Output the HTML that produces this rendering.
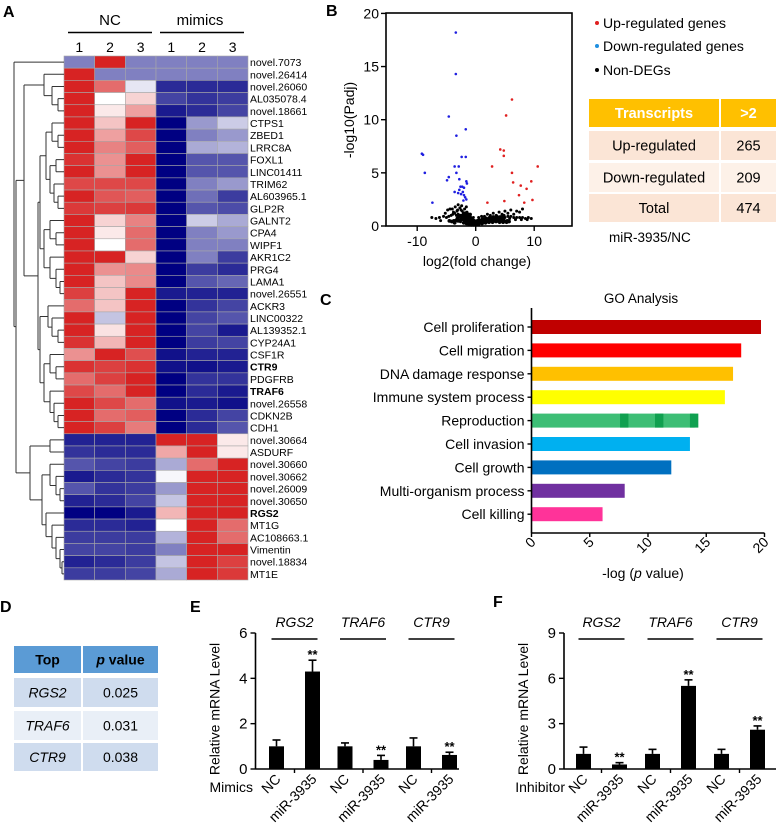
<!DOCTYPE html>
<html><head><meta charset="utf-8">
<style>
html,body{margin:0;padding:0;background:#fff;}
svg{display:block;font-family:"Liberation Sans",sans-serif;}
</style></head>
<body>
<svg id="fig" width="781" height="830" viewBox="0 0 781 830" xmlns="http://www.w3.org/2000/svg">
<g font-weight="bold" font-size="16">
<text x="3" y="17">A</text>
<text x="326" y="16">B</text>
<text x="320" y="305">C</text>
<text x="0" y="612">D</text>
<text x="190" y="612">E</text>
<text x="493" y="607">F</text>
</g>
<g id="heat"></g>
<g id="volc"></g>
<g id="tableB"></g>
<g id="go"></g>
<g id="tableD"></g>
<g id="barE"></g>
<g id="barF"></g>
</svg>
<script>
const NS='http://www.w3.org/2000/svg';
// ---------- Heatmap data ----------
const heatGenes=['novel.7073','novel.26414','novel.26060','AL035078.4','novel.18661','CTPS1','ZBED1','LRRC8A','FOXL1','LINC01411','TRIM62','AL603965.1','GLP2R','GALNT2','CPA4','WIPF1','AKR1C2','PRG4','LAMA1','novel.26551','ACKR3','LINC00322','AL139352.1','CYP24A1','CSF1R','CTR9','PDGFRB','TRAF6','novel.26558','CDKN2B','CDH1','novel.30664','ASDURF','novel.30660','novel.30662','novel.26009','novel.30650','RGS2','MT1G','AC108663.1','Vimentin','novel.18834','MT1E'];
const boldGenes=['CTR9','TRAF6','RGS2'];
const heatCols=['1','2','3','1','2','3'];
const heatVals=[
[-1.5,3,-1.5,-1.5,-1.5,-1.5],[3,-1.5,-1.5,-1.5,-1.5,-1.5],[3,2,-0.3,-2.5,-2.5,-2.5],[3,0,0.6,-2.2,-2.4,-2.3],[3,0.3,1.3,-2.7,-2.5,-2.2],
[3,0.8,3,-3,-1.2,-0.6],[3,1.3,2.5,-3,-1.5,-1.2],[3,1.7,2.2,-3,-1,-0.9],[2.8,1.5,3,-3,-2,-2],[3,1.5,3,-3,-2,-2],
[2.5,2.5,2.5,-3,-1.5,-1.2],[3,2.3,2.2,-3,-1.7,-2.3],[2.7,2.6,2.7,-3,-2,-2.1],[3,0.6,1.7,-3,-0.6,-1],[3,0.3,2,-3,-1.5,-1.2],
[3,0,2,-3,-1.5,-1.5],[3,3,0.6,-3,-1.5,-2.3],[3,1.5,1.6,-3,-2.3,-2.5],[3,0.8,1.6,-3,-2,-1.8],[2.6,0.8,3,-2.7,-2.6,-2.6],
[2,0.8,3,-3,-2.4,-2.2],[3,-0.7,3,-3,-2.2,-2],[3,0.4,3,-3,-2.2,-2.7],[2.8,1,3,-3,-2.3,-2.2],[1.5,3,2.4,-2.8,-2.6,-2.6],
[2.8,2.6,2.8,-2.8,-2.8,-2.7],[2,2.6,3,-3,-2.4,-2.4],[2.5,2,3,-3,-2.5,-2.7],[3,2.5,2,-2.8,-2.7,-2.8],[3,2,2.2,-3,-2.5,-2.2],
[3,2.6,1.8,-3,-2.5,-2],[-2.6,-2.6,-2.6,3,3,0.3],[-2.4,-2.5,-2.5,1.2,3,0.3],[-2,-2.2,-2.3,-1,2,3],[-2.7,-2.5,-2.4,-0.1,3,3],
[-2,-2.4,-2.3,-1.2,3,3],[-2.6,-2.5,-2.2,-0.7,3,3],[-3,-3,-2.7,1,3,3],[-2.5,-2.5,-2.6,0,3,2],[-2.3,-2.3,-2.3,-0.9,3,2],
[-2.2,-2.2,-2.3,-1.5,3,3],[-2.6,-2.5,-2.3,-0.7,3,2.6],[-2.3,-2.3,-2.2,-1,3,2.7]];
// ---------- Volcano data ----------
const downX=[-3.4,-3.4,-4.6,-1.7,-3.3,-9.0,-9.2,-8.7,-2.4,-1.7,-3.6,-2.9,-3.3,-4.6,-4.9,-2.8,-1.6,-1.5,-2.6,-2.3,-2.0,-2.8,-3.6,-3.0,-2.2,-2.5,-2.0,-1.8,-1.6,-7.4,-2.1];
const downY=[18.2,14.3,10.3,9.1,8.5,6.7,6.8,5.0,6.5,6.5,5.6,5.6,5.0,4.6,4.3,4.4,4.2,4.0,3.7,3.7,3.6,3.4,3.2,3.1,3.2,3.0,2.9,2.7,2.5,2.2,2.4];
const upX=[6.2,5.2,4.2,4.8,4.8,2.8,10.6,6.2,6.4,9.5,7.7,8.7,7.4,9.7,4.9,8.3,2.0];
const upY=[11.9,10.4,7.2,7.1,6.6,5.6,5.6,5.0,4.1,4.2,3.8,3.5,2.9,2.45,2.35,2.2,2.2];
const nonX=[-7.5,-6.8,-6.2,-5.5,-5.0,-4.6,-4.2,-3.9,-3.6,-3.3,-3.0,-2.8,-2.6,-2.4,-2.2,-2.0,-1.8,-1.6,-1.4,-1.2,-1.0,-0.8,-0.5,-0.2,0.2,0.6,1.0,1.5,2.0,2.5,3.0,3.5,4.0,4.5,5.0,5.5,6.0,6.5,7.0,7.5,8.0,8.5,9.0,9.5,
-4.8,-4.0,-3.5,-3.1,-2.7,-2.3,-1.9,-1.5,-1.1,-0.7,-3.8,-3.2,-2.5,-2.1,-1.7,-1.3,-2.9,-2.2,-1.8,-1.5,1.0,2.0,3.0,4.0,5.0,6.0,7.0,8.0,3.5,4.5,5.5,6.5,7.5,-6.0,-5.2,-4.4,-0.4,0.5,1.5,2.5,
-3.4,-2.6,-1.9,-1.2,-0.6,0.0,0.8,1.8,2.8,3.8,4.8,5.8,6.8,7.8,8.8,-2.4,-1.6,-3.0,-2.0,-1.0];
const nonY=[0.8,0.7,0.8,0.9,0.8,0.9,1.0,1.1,1.2,1.0,1.1,0.9,1.0,0.8,0.9,0.7,0.6,0.5,0.5,0.4,0.4,0.3,0.3,0.3,0.3,0.4,0.5,0.5,0.6,0.6,0.7,0.7,0.8,0.8,0.8,0.9,0.9,0.8,0.8,0.8,0.8,0.7,0.8,0.7,
1.5,1.6,1.8,1.5,1.7,1.4,1.6,1.3,1.0,0.7,1.3,1.4,1.5,1.2,1.0,0.9,0.6,0.6,0.4,0.3,0.9,1.1,1.2,1.3,1.4,1.5,1.4,1.6,1.0,1.1,1.2,1.1,1.3,0.5,1.2,1.6,0.8,0.8,0.9,1.0,
0.5,0.4,0.3,0.2,0.2,0.2,0.3,0.4,0.5,0.6,0.6,0.7,0.6,0.6,0.6,1.9,1.8,2.0,1.2,1.0];
const volcXTicks=[-10,0,10];
const volcYTicks=[0,5,10,15,20];
// ---------- Table B ----------
const tbHeader=['Transcripts','>2'];
const tbRows=[['Up-regulated','265'],['Down-regulated','209'],['Total','474']];
// ---------- GO data ----------
const goTerms=['Cell proliferation','Cell migration','DNA damage response','Immune system process','Reproduction','Cell invasion','Cell growth','Multi-organism process','Cell killing'];
const goValues=[19.7,18.0,17.3,16.6,14.0,13.6,12.0,8.0,6.1];
const goColors=['#C00000','#FF0000','#FFC000','#FFFF00','#3DBE75','#00B0F0','#0070C0','#7030A0','#FF3399'];
const goTicks=[0,5,10,15,20];
// ---------- Table D ----------
const tdHeader=['Top','p value'];
const tdRows=[['RGS2','0.025'],['TRAF6','0.031'],['CTR9','0.038']];
// ---------- Bar data ----------
const barGenes=['RGS2','TRAF6','CTR9'];
const barConds=['NC','miR-3935'];
const mimicsVals=[1.0,4.3,1.0,0.4,1.0,0.62];
const mimicsErr=[0.28,0.5,0.15,0.2,0.37,0.12];
const mimicsSig=['','**','','**','','**'];
const mimicsTicks=[0,2,4,6];
const inhibVals=[1.0,0.3,1.0,5.5,1.0,2.6];
const inhibErr=[0.45,0.12,0.3,0.4,0.3,0.25];
const inhibSig=['','**','','**','','**'];
const inhibTicks=[0,3,6,9];

function mk(parent,tag,attrs,txt){const e=document.createElementNS(NS,tag);for(const k in attrs)e.setAttribute(k,attrs[k]);if(txt!==undefined)e.textContent=txt;parent.appendChild(e);return e;}

// ===== Heatmap =====
(function(){
const g=document.getElementById('heat');
const x0=64,x1=248,y0=56,y1=580;
const cw=(x1-x0)/6,rh=(y1-y0)/heatGenes.length;
function col(v){const t=Math.min(1,Math.abs(v)/3);
 if(v>=0){return `rgb(${Math.round(255-t*40)},${Math.round(255-t*220)},${Math.round(255-t*220)})`;}
 return `rgb(${Math.round(255-t*255)},${Math.round(255-t*255)},${Math.round(255-t*125)})`;}
heatVals.forEach((row,i)=>{row.forEach((v,j)=>{
 const r=mk(g,'rect',{x:x0+j*cw,y:y0+i*rh,width:cw,height:rh,fill:col(v),stroke:'#a8a8a8','stroke-width':0.6});
 
 
});
 const t=mk(g,'text',{x:x1+2,y:y0+i*rh+rh/2+4,'font-size':10.5,'font-weight':boldGenes.includes(heatGenes[i])?'bold':'normal'},heatGenes[i]);
 
 
});
heatCols.forEach((c,j)=>{const t=mk(g,'text',{x:x0+j*cw+cw/2,y:52,'font-size':14,'text-anchor':'middle'},c);
 
 });
const h1=mk(g,'text',{x:110,y:25,'font-size':15,'text-anchor':'middle'},'NC');


const h2=mk(g,'text',{x:200,y:25,'font-size':15,'text-anchor':'middle'},'mimics');


mk(g,'line',{x1:68,x2:152,y1:32.5,y2:32.5,stroke:'#000','stroke-width':1.6});
mk(g,'line',{x1:160,x2:244,y1:32.5,y2:32.5,stroke:'#000','stroke-width':1.6});
const tree=[14,0,[16,[24,[44,1,[52,2,[58,3,4]]],[38,[40,[46,[52,5,[58,6,7]],[50,[56,8,9],[54,10,[58,11,12]]]],[44,[50,13,[56,14,15]],[50,16,[56,17,[60,18,19]]]]],[40,[48,20,[52,21,[58,22,23]]],[44,[50,24,[56,25,26]],[50,27,[54,28,[58,29,30]]]]]]],[30,[50,31,32],[42,[50,33,[56,34,[60,35,36]]],[46,37,[52,38,[56,39,[60,40,[62,41,42]]]]]]]]];
let d='';
function walk(n){if(typeof n==='number')return {y:y0+n*rh+rh/2,x:x0};
 const a=walk(n[1]),b=walk(n[2]);const h=n[0];
 d+=`M${h},${a.y}H${a.x}M${h},${b.y}H${b.x}M${h},${a.y}V${b.y}`;
 return {y:(a.y+b.y)/2,x:h};}
walk(tree);
const p=mk(g,'path',{d:d,stroke:'#333',fill:'none','stroke-width':1});


})();

// ===== Volcano =====
(function(){
const g=document.getElementById('volc');
const L=386,R=572,T=13,B=226;
const xs=v=>475.7+v*5.85, ys=v=>226-v*10.63;
nonX.forEach((v,i)=>{const c=mk(g,'circle',{cx:xs(v),cy:ys(nonY[i]),r:1.5,fill:'#000'});});
nonX.forEach((v,i)=>{const c=mk(g,'circle',{cx:xs(v*0.6),cy:ys(nonY[i]*0.6),r:1.9,fill:'#000'});});
downX.forEach((v,i)=>{const c=mk(g,'circle',{cx:xs(v),cy:ys(downY[i]),r:1.3,fill:'#1F1FE0'});});
upX.forEach((v,i)=>{const c=mk(g,'circle',{cx:xs(v),cy:ys(upY[i]),r:1.3,fill:'#E02020'});});
mk(g,'rect',{x:L,y:T,width:R-L,height:B-T,fill:'none',stroke:'#000','stroke-width':1.6});
volcYTicks.forEach(v=>{mk(g,'line',{x1:L-5,x2:L,y1:ys(v),y2:ys(v),stroke:'#000','stroke-width':1.4});
 const t=mk(g,'text',{x:L-7,y:ys(v)+5,'font-size':14,'text-anchor':'end'},v);});
volcXTicks.forEach(v=>{mk(g,'line',{x1:xs(v),x2:xs(v),y1:B,y2:B+5,stroke:'#000','stroke-width':1.4});
 const t=mk(g,'text',{x:xs(v),y:246,'font-size':14,'text-anchor':'middle'},v);});
const xl=mk(g,'text',{x:477,y:266,'font-size':14,'text-anchor':'middle'},'log2(fold change)');
const yl=mk(g,'text',{x:0,y:0,'font-size':14,'text-anchor':'middle',transform:'translate(354,120) rotate(-90)'},'-log10(Padj)');
const leg=[['#E02020','Up-regulated genes',24],['#1F8FE0','Down-regulated genes',47],['#000','Non-DEGs',71]];
leg.forEach(l=>{const c=mk(g,'circle',{cx:597,cy:l[2]-1,r:2,fill:l[0]});
 const t=mk(g,'text',{x:603,y:l[2]+4,'font-size':14},l[1]);});
})();

// ===== Table B =====
(function(){
const g=document.getElementById('tableB');
const cx=[589,721],cw=[130,55];
const rowsY=[[99,28],[131,29],[163,29],[194,28]];
const fills=['#FFC000','#FBE5D6','#FDF1E8','#FBE5D6'];
const all=[tbHeader].concat(tbRows);
all.forEach((r,i)=>{r.forEach((c,j)=>{
 mk(g,'rect',{x:cx[j],y:rowsY[i][0],width:cw[j],height:rowsY[i][1],fill:fills[i]});
 const t=mk(g,'text',{x:cx[j]+cw[j]/2,y:rowsY[i][0]+rowsY[i][1]/2+5,'font-size':14.5,'text-anchor':'middle','font-weight':i==0?'bold':'normal',fill:i==0?'#fff':'#000'},c);
 
 
});});
const t=mk(g,'text',{x:609,y:242,'font-size':13.5},'miR-3935/NC');
})();

// ===== GO =====
(function(){
const g=document.getElementById('go');
const x0=531.5,sc=11.65,yB=533;
const yc=i=>327+i*23.4;
const tt=mk(g,'text',{x:641,y:303,'font-size':13.5,'text-anchor':'middle'},'GO Analysis');
goValues.forEach((v,i)=>{
 const r=mk(g,'rect',{x:x0,y:yc(i)-7,width:v*sc,height:14,fill:goColors[i]});
 
 
 mk(g,'line',{x1:x0-4,x2:x0,y1:yc(i),y2:yc(i),stroke:'#000','stroke-width':1.4});
 const t=mk(g,'text',{x:x0-7,y:yc(i)+5,'font-size':14,'text-anchor':'end'},goTerms[i]);
 
 
});
[[8,1.2],[11,1.2],[14,1.2]].forEach(p=>mk(g,'rect',{x:x0+(p[0]-0.4)*sc,y:yc(4)-7,width:p[1]*sc*0.6,height:14,fill:'#10A050'}));
mk(g,'line',{x1:x0,x2:x0,y1:308,y2:yB,stroke:'#000','stroke-width':1.6});
mk(g,'line',{x1:x0,x2:x0+20*sc,y1:yB,y2:yB,stroke:'#000','stroke-width':1.6});
goTicks.forEach(v=>{const x=x0+v*sc;mk(g,'line',{x1:x,x2:x,y1:yB,y2:yB+4,stroke:'#000','stroke-width':1.4});
 const t=mk(g,'text',{x:0,y:0,'font-size':14,'text-anchor':'end',transform:`translate(${x+5},${yB+10}) rotate(-45)`},v);
 
 });
const xl=mk(g,'text',{x:643,y:578,'font-size':14,'text-anchor':'middle'});
xl.innerHTML='-log (<tspan font-style="italic">p</tspan> value)';


})();

// ===== Table D =====
(function(){
const g=document.getElementById('tableD');
const cx=[14,83],cw=[67,75];
const rowsY=[[646,27],[678,29],[711,29],[743,28]];
const fills=['#5B9BD5','#CFDCEE','#E9EFF7','#CFDCEE'];
const all=[tdHeader].concat(tdRows);
all.forEach((r,i)=>{r.forEach((c,j)=>{
 mk(g,'rect',{x:cx[j],y:rowsY[i][0],width:cw[j],height:rowsY[i][1],fill:fills[i]});
 const t=mk(g,'text',{x:cx[j]+cw[j]/2,y:rowsY[i][0]+rowsY[i][1]/2+5,'font-size':14,'text-anchor':'middle','font-weight':i==0?'bold':'normal','font-style':(i>0&&j==0)?'italic':'normal'});
 if(i==0&&j==1){t.innerHTML='<tspan font-style="italic">p</tspan> value';}else{t.textContent=c;}
 
 
});});
})();

// ===== Bars =====
function barChart(id,x0,yMax,ticks,vals,errs,sig,axisEnd,groupOff,groupStep,condLabel,condX){
const g=document.getElementById(id);
const y0=769,yTop=633,sc=(y0-yTop)/yMax;
const ys=v=>y0-v*sc;
vals.forEach((v,i)=>{
 const gi=Math.floor(i/2),k=i%2;
 const cx=x0+groupOff+gi*groupStep+(k?18:-18);
 const r=mk(g,'rect',{x:cx-7.5,y:ys(v),width:15,height:v*sc,fill:'#000'});
 
 
 mk(g,'line',{x1:cx,x2:cx,y1:ys(v),y2:ys(v+errs[i]),stroke:'#000','stroke-width':1.6});
 mk(g,'line',{x1:cx-4,x2:cx+4,y1:ys(v+errs[i]),y2:ys(v+errs[i]),stroke:'#000','stroke-width':1.6});
 if(sig[i]){const s=mk(g,'text',{x:cx,y:ys(v+errs[i])-1,'font-size':13,'font-weight':'bold','text-anchor':'middle'},sig[i]);}
 const t=mk(g,'text',{x:0,y:0,'font-size':14,'text-anchor':'end',transform:`translate(${cx+5},${y0+11}) rotate(-45)`},barConds[k]);
 
 
});
barGenes.forEach((gn,gi)=>{const cx=x0+groupOff+gi*groupStep;
 const t=mk(g,'text',{x:cx,y:627,'font-size':14,'font-style':'italic','text-anchor':'middle'},gn);
 
 
 mk(g,'line',{x1:cx-23,x2:cx+23,y1:639,y2:639,stroke:'#000','stroke-width':1.6});
 mk(g,'line',{x1:cx,x2:cx,y1:y0,y2:y0+4,stroke:'#000','stroke-width':1.4});
});
mk(g,'line',{x1:x0,x2:x0,y1:yTop,y2:y0,stroke:'#000','stroke-width':1.6});
mk(g,'line',{x1:x0,x2:axisEnd,y1:y0,y2:y0,stroke:'#000','stroke-width':1.6});
ticks.forEach(v=>{mk(g,'line',{x1:x0-5,x2:x0,y1:ys(v),y2:ys(v),stroke:'#000','stroke-width':1.4});
 const t=mk(g,'text',{x:x0-8,y:ys(v)+5,'font-size':15,'text-anchor':'end'},v);
 
 });
const yl=mk(g,'text',{x:0,y:0,'font-size':14,'text-anchor':'middle',transform:`translate(${x0-36},${(y0+yTop)/2+8}) rotate(-90)`},'Relative mRNA Level');


const cl=mk(g,'text',{x:condX,y:792,'font-size':14,'text-anchor':'end'},condLabel);


}
barChart('barE',255.5,6,mimicsTicks,mimicsVals,mimicsErr,mimicsSig,459,39,68.5,'Mimics',253);
barChart('barF',564,9,inhibTicks,inhibVals,inhibErr,inhibSig,776,37.5,69,'Inhibitor',565);
</script>
</body></html>
